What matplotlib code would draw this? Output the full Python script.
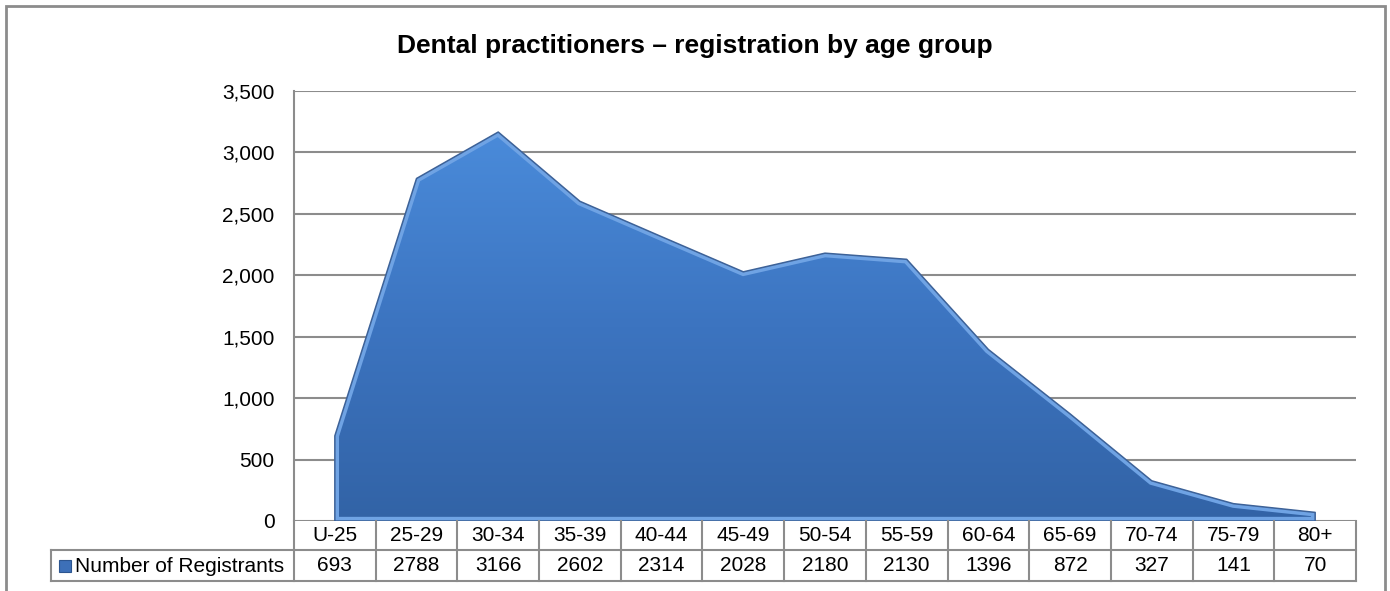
import numpy as np
import matplotlib
matplotlib.use('Agg')
import matplotlib.pyplot as pyplot
from matplotlib.patches import Rectangle, Polygon
from matplotlib.colors import LinearSegmentedColormap

pyplot.rcParams['font.family'] = ['Liberation Sans', 'DejaVu Sans']

# Data
age_groups = ['U-25', '25-29', '30-34', '35-39', '40-44', '45-49', '50-54',
              '55-59', '60-64', '65-69', '70-74', '75-79', '80+']
registrants = [693, 2788, 3166, 2602, 2314, 2028, 2180, 2130, 1396, 872, 327, 141, 70]
series_name = 'Number of Registrants'
y_ticks = [0, 500, 1000, 1500, 2000, 2500, 3000, 3500]

W, H = 1390, 591
fs = 15
figure = pyplot.figure(figsize=(W / 100, H / 100), dpi=100)

# outer border of the chart (bottom edge falls outside the picture)
figure.patches.append(Rectangle((6 / W, -4 / H), 1379 / W, 589 / H, transform=figure.transFigure,
                                fill=False, edgecolor='#8c8c8c', linewidth=2))

ax = figure.add_axes([294 / W, 70 / H, 1062 / W, 430 / H])
n = len(age_groups)
x = np.arange(n)

# gridlines
for t in y_ticks:
    ax.axhline(t, color='#8c8c8c', linewidth=1.5, zorder=1)
for s in ['top', 'right', 'bottom']:
    ax.spines[s].set_visible(False)
ax.spines['left'].set_color('#8c8c8c')
ax.spines['left'].set_linewidth(1.5)
ax.set_xticks([])
ax.set_yticks(y_ticks)
ax.set_yticklabels(['{:,}'.format(t) for t in y_ticks], fontsize=fs)
ax.tick_params(axis='y', length=0, pad=14)

# area with vertical gradient
verts = [(x[0], 0)] + list(zip(x, registrants)) + [(x[-1], 0)]
poly = Polygon(verts, closed=True, facecolor='none', edgecolor='none', zorder=2)
ax.add_patch(poly)
cmap = LinearSegmentedColormap.from_list('blu', ['#3263a6', '#3c74c0', '#4a8bda'])
grad = np.linspace(0, 1, 256).reshape(-1, 1)
img = ax.imshow(grad, cmap=cmap, origin='lower', aspect='auto',
                extent=[x[0], x[-1], 0, max(registrants)], zorder=2)
img.set_clip_path(poly)
# bevel highlight and outline
ox = [v[0] for v in verts] + [verts[0][0]]
oy = [v[1] for v in verts] + [verts[0][1]]
hl = ax.plot(ox, oy, color='#6fa3e4', linewidth=6, zorder=3, solid_joinstyle='miter')[0]
hl.set_clip_path(poly)
ax.plot(ox, oy, color='#3d6298', linewidth=1.1, zorder=4)
ax.set_xlim(-0.5, n - 0.5)
ax.set_ylim(0, 3500)

# data table below the axis
trans = ax.get_xaxis_transform()
r1 = -29 / 430.0
r2 = -60 / 430.0
xl = -0.5 - 243 / 81.7
lkw = dict(color='#8c8c8c', linewidth=1.5, transform=trans, clip_on=False, zorder=5)
ax.plot([-0.5, n - 0.5], [r1, r1], **lkw)
ax.plot([xl, n - 0.5], [r2, r2], **lkw)
ax.plot([xl, xl], [r1, r2], **lkw)
ax.plot([xl, -0.5], [r1, r1], **lkw)
for i in range(n + 1):
    ax.plot([i - 0.5, i - 0.5], [0, r2], **lkw)
for i in range(n):
    ax.text(i, r1 / 2, age_groups[i], transform=trans, ha='center', va='center', fontsize=fs)
    ax.text(i, (r1 + r2) / 2, str(registrants[i]), transform=trans, ha='center', va='center', fontsize=fs)

# legend key in the table
figure.patches.append(Rectangle((59 / W, (H - 572) / H), 12 / W, 12 / H, transform=figure.transFigure,
                                facecolor='#3d70b8', edgecolor='#2c5590', linewidth=0.8))
figure.text(75 / W, (H - 566) / H, series_name, ha='left', va='center', fontsize=fs)

figure.text(0.5, (H - 46) / H, 'Dental practitioners \u2013 registration by age group',
            ha='center', va='center', fontsize=19, fontweight='bold')

figure.savefig('out.png', dpi=100)
